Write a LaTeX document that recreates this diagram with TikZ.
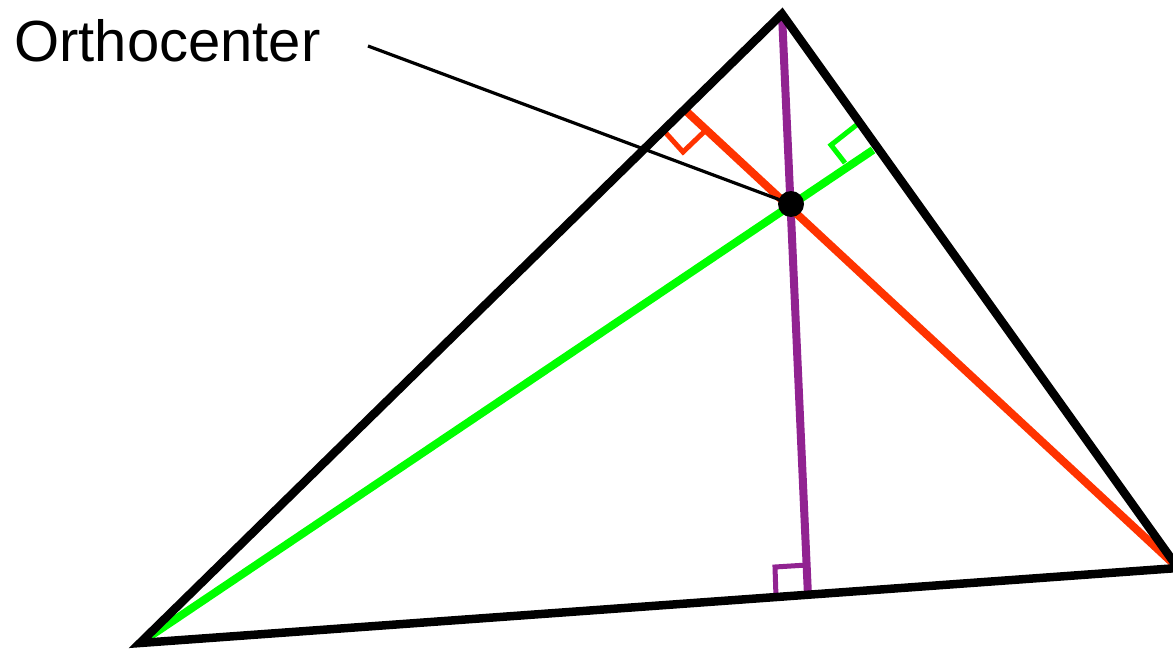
\documentclass[tikz,border=0pt]{standalone}
\usepackage{fontspec}
\setmainfont{Liberation Sans}
\definecolor{alred}{RGB}{255,51,0}
\definecolor{algreen}{RGB}{0,255,0}
\definecolor{alpurple}{RGB}{145,35,145}
\begin{document}
\begin{tikzpicture}[x=1pt,y=-1pt,
  tri/.style={line width=8.5pt,black,line join=miter},
  alt/.style={line width=8pt},
  ra/.style={line width=5pt,line join=miter},
  pointer/.style={line width=3.2pt,black}]
\useasboundingbox (0,0) rectangle (1173,650);
\coordinate (A) at (140,643);
\coordinate (B) at (782,14);
\coordinate (C) at (1178,568);
% altitude feet
\coordinate (Fb) at (808,596);
\coordinate (Fa) at (873,150);
\coordinate (Fc) at (686,111);
% altitudes
\draw[alt,alpurple] (B) -- (Fb);
\draw[alt,algreen] (A) -- (Fa);
\draw[alt,alred] (C) -- (Fc);
% right-angle marks
\draw[ra,alpurple] (776,597) -- (775,567) -- (807,565);
\draw[ra,alred] (665,132) -- (683,152) -- (707,129);
\draw[ra,algreen] (859,123) -- (831,145) -- (845,163);
% triangle
\draw[tri] (A) -- (B) -- (C) -- cycle;
% orthocenter
\node[circle,fill=black,inner sep=0pt,minimum size=26pt] (H) at (791,204) {};
\node[anchor=base west,inner sep=0pt,font=\fontsize{58}{62}\selectfont] (L) at (14,62) {Orthocenter};
\coordinate (P) at (368,46);
\draw[pointer] (P) -- (H.center);
\end{tikzpicture}
\end{document}
